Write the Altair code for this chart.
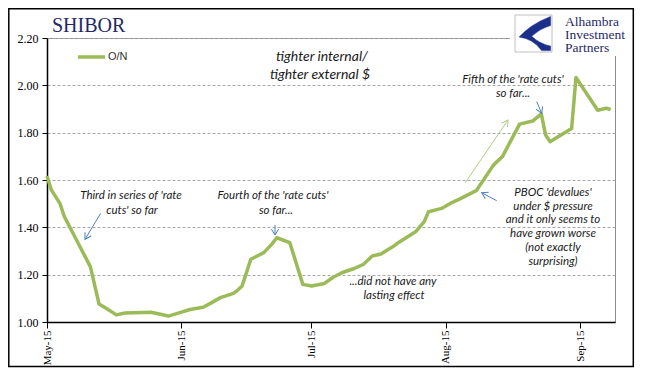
import altair as alt
import pandas as pd

# ---- data ----
dates = [
    "2015-05-01", "2015-05-02", "2015-05-04", "2015-05-05", "2015-05-07", "2015-05-09",
    "2015-05-11", "2015-05-13", "2015-05-15", "2015-05-17", "2015-05-19", "2015-05-25",
    "2015-05-29", "2015-06-01", "2015-06-03", "2015-06-06", "2015-06-08", "2015-06-10",
    "2015-06-13", "2015-06-14", "2015-06-15", "2015-06-17", "2015-06-20", "2015-06-22",
    "2015-06-23", "2015-06-26", "2015-06-29", "2015-07-01", "2015-07-04", "2015-07-06",
    "2015-07-08", "2015-07-11", "2015-07-13", "2015-07-15", "2015-07-17", "2015-07-20",
    "2015-07-21", "2015-07-23", "2015-07-25", "2015-07-27", "2015-07-28", "2015-07-31",
    "2015-08-02", "2015-08-04", "2015-08-08", "2015-08-12", "2015-08-14", "2015-08-18",
    "2015-08-21", "2015-08-23", "2015-08-24", "2015-08-25", "2015-08-30", "2015-08-31",
    "2015-09-05", "2015-09-07", "2015-09-08",
]
on_rate = [
    1.617, 1.558, 1.500, 1.445, 1.375, 1.304,
    1.234, 1.076, 1.054, 1.030, 1.038, 1.041,
    1.025, 1.042, 1.053, 1.062, 1.082, 1.103,
    1.121, 1.135, 1.152, 1.265, 1.293, 1.332,
    1.356, 1.335, 1.159, 1.152, 1.163, 1.189,
    1.208, 1.227, 1.244, 1.279, 1.287, 1.321,
    1.335, 1.358, 1.381, 1.424, 1.466, 1.480,
    1.501, 1.518, 1.555, 1.664, 1.698, 1.836,
    1.849, 1.879, 1.790, 1.762, 1.818, 2.033,
    1.895, 1.903, 1.898,
]
y_ticks = [1.0, 1.2, 1.4, 1.6, 1.8, 2.0, 2.2]
x_tick_months = [5, 6, 7, 8, 9]
series_name = "O/N"

df = pd.DataFrame({"date": dates, "value": on_rate})

W, H = 568, 284
GREEN = "#9bbb59"
BLUE = "#4f81bd"
NAVY = "#1f2a66"
ANNO_FONT = "Lato"
one = pd.DataFrame({"k": [0]})

line = alt.Chart(df).mark_line(color=GREEN, strokeWidth=3.5, strokeJoin="round").encode(
    x=alt.X(
        "date:T",
        scale=alt.Scale(
            type="utc",
            domain=[alt.DateTime(year=2015, month=5, date=1, utc=True),
                    alt.DateTime(year=2015, month=9, date=9, utc=True)],
        ),
        axis=alt.Axis(
            values=[alt.DateTime(year=2015, month=m, date=1, utc=True) for m in x_tick_months],
            format="%b-%y", labelAngle=-90, labelFont="Liberation Serif", labelFontSize=11,
            labelColor="black", tickColor="black", tickSize=6, domainColor="black",
            domainWidth=1.5, labelPadding=2, grid=False, title=None,
        ),
    ),
    y=alt.Y(
        "value:Q",
        scale=alt.Scale(domain=[1.0, 2.2], nice=False, zero=False),
        axis=alt.Axis(
            values=y_ticks, format=".2f", labelFont="Liberation Serif", labelFontSize=12,
            labelColor="black", tickColor="black", tickSize=5, domainColor="black",
            domainWidth=1.5, labelPadding=4, grid=True, gridColor="#a6a6a6",
            gridDash=[3, 2], gridWidth=1, title=None,
        ),
    ),
)

layers = []

# outer frame
layers.append(alt.Chart(one).mark_rect(fill="transparent", stroke="black", strokeWidth=1.5).encode(
    x=alt.value(-38.2), x2=alt.value(586.3), y=alt.value(-29.2), y2=alt.value(328.5)))

layers.append(line)

# logo area (white panel covering the corner of the plot frame)
layers.append(alt.Chart(one).mark_rect(fill="white").encode(
    x=alt.value(463), x2=alt.value(585), y=alt.value(-28), y2=alt.value(18)))
layers.append(alt.Chart(one).mark_rect(fill="white", stroke="#c0c0c0", strokeWidth=1).encode(
    x=alt.value(468), x2=alt.value(505), y=alt.value(-23), y2=alt.value(14)))
swoosh = ("M 0.95 -0.95 Q -0.2 -0.5 -0.8 0.2 Q 0.0 0.3 0.45 0.95 L 0.95 0.95 L 0.95 0.7 "
          "Q 0.3 0.55 -0.1 0.15 Q 0.4 -0.3 0.95 -0.45 Z")
layers.append(alt.Chart(one).mark_point(shape=swoosh, size=1296, filled=True, fill="#1b2f8a",
                                         stroke="#1b2f8a", strokeWidth=0.5, opacity=1).encode(
    x=alt.value(486.5), y=alt.value(-4.5)))
for txt, yy in [("Alhambra", -12), ("Investment", 1), ("Partners", 14)]:
    layers.append(alt.Chart(one).mark_text(text=txt, align="left", baseline="alphabetic",
                                           font="Liberation Serif", fontSize=13.5, color=NAVY).encode(
        x=alt.value(518), y=alt.value(yy)))

# title
layers.append(alt.Chart(one).mark_text(text="SHIBOR", align="left", baseline="alphabetic",
                                       font="Liberation Serif", fontSize=20, color=NAVY).encode(
    x=alt.value(5), y=alt.value(-6)))

# legend
layers.append(alt.Chart(one).mark_rule(color=GREEN, strokeWidth=3.5).encode(
    x=alt.value(31), x2=alt.value(58), y=alt.value(19)))
layers.append(alt.Chart(one).mark_text(text=series_name, align="left", baseline="middle",
                                       font="Liberation Sans", fontSize=11, color="#333333").encode(
    x=alt.value(61), y=alt.value(19)))

# annotations
annos = [
    ("tighter internal/", 275, 19, 14),
    ("tighter external $", 273, 37, 14),
    ("Third in series of 'rate", 84, 158, 11.5),
    ("cuts' so far", 85, 173, 11.5),
    ("Fourth of the 'rate cuts'", 226, 158, 11.5),
    ("so far...", 229, 173, 11.5),
    ("Fifth of the 'rate cuts'", 466, 42, 11.5),
    ("so far...", 466, 56, 11.5),
    ("PBOC 'devalues'", 506, 155, 11.5),
    ("under $ pressure", 506, 169, 11.5),
    ("and it only seems to", 506, 182, 11.5),
    ("have grown worse", 506, 196, 11.5),
    ("(not exactly", 506, 210, 11.5),
    ("surprising)", 506, 224, 11.5),
    ("...did not have any", 346, 244, 11.5),
    ("lasting effect", 347, 258, 11.5),
]
for txt, xx, yy, fs in annos:
    layers.append(alt.Chart(one).mark_text(text=txt, align="center", baseline="middle",
                                           font=ANNO_FONT, fontStyle="italic", fontSize=fs,
                                           color="#1a1a1a").encode(
        x=alt.value(xx), y=alt.value(yy)))

# arrows: (x1, y1) tail -> (x2, y2) head
head = "M -0.6 -1 L 0 0 L 0.6 -1"
arrows = [
    (53.7, 175.3, 38, 201.3, BLUE, 31),
    (228, 187, 228, 197, BLUE, 0),
    (489.7, 63.7, 494.7, 75.3, BLUE, 336.7),
    (449.7, 162.7, 434.7, 154.7, BLUE, 118),
    (418, 145, 461, 82, "#b5cc88", 214.3),
]
for x1, y1, x2, y2, col, ang in arrows:
    layers.append(alt.Chart(one).mark_rule(color=col, strokeWidth=1).encode(
        x=alt.value(x1), x2=alt.value(x2), y=alt.value(y1), y2=alt.value(y2)))
    layers.append(alt.Chart(one).mark_point(shape=head, size=144, filled=False, stroke=col,
                                             strokeWidth=1, angle=ang, opacity=1).encode(
        x=alt.value(x2), y=alt.value(y2)))

chart = alt.layer(*layers).properties(
    width=W, height=H,
    padding={"left": 39, "top": 30, "right": 20, "bottom": 46},
    autosize=alt.AutoSizeParams(type="none"),
    background="white",
).configure_view(stroke="#8c8c8c", strokeWidth=1)

chart.save("out.html", embed_options={"renderer": "svg", "actions": False})
